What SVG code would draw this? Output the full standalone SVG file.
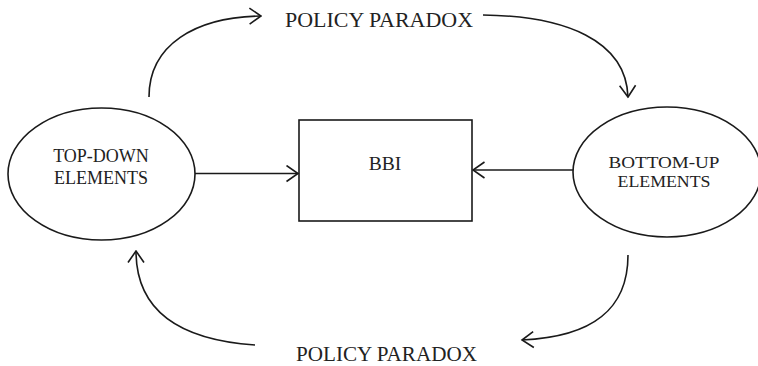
<svg xmlns="http://www.w3.org/2000/svg" width="758" height="366" viewBox="0 0 758 366">
<style>
.shape{fill:none;stroke:#1a1a1a;stroke-width:1.6}
.conn{fill:none;stroke:#1a1a1a;stroke-width:1.6}
.lbl{font-family:"Liberation Serif","Times New Roman",serif;fill:#222;text-anchor:middle}
</style>
<defs>
<marker id="arr" viewBox="0 0 14 18" refX="12.5" refY="9" markerWidth="14" markerHeight="18" markerUnits="userSpaceOnUse" orient="auto">
<path d="M1,1 L12.5,9 L1,17" fill="none" stroke="#1a1a1a" stroke-width="1.6"/>
</marker>
</defs>
<rect width="758" height="366" fill="#fff"/>
<g id="top-down">
<ellipse class="shape" cx="101.5" cy="174" rx="93.5" ry="66"/>
<text class="lbl" x="101" y="162" font-size="18">TOP-DOWN</text>
<text class="lbl" x="101" y="184" font-size="18">ELEMENTS</text>
</g>
<g id="bbi">
<rect class="shape" x="299" y="120" width="173" height="101"/>
<text class="lbl" x="385" y="170" font-size="19.5">BBI</text>
</g>
<g id="bottom-up">
<ellipse class="shape" cx="667" cy="172" rx="94" ry="65"/>
<text class="lbl" x="664" y="167.5" font-size="17" textLength="111" lengthAdjust="spacingAndGlyphs">BOTTOM-UP</text>
<text class="lbl" x="664" y="187" font-size="17" textLength="93" lengthAdjust="spacingAndGlyphs">ELEMENTS</text>
</g>
<g id="policy-top">
<text class="lbl" x="379" y="27" font-size="21" textLength="188" lengthAdjust="spacingAndGlyphs">POLICY PARADOX</text>
</g>
<g id="policy-bottom">
<text class="lbl" x="386.5" y="361" font-size="21" textLength="181" lengthAdjust="spacingAndGlyphs">POLICY PARADOX</text>
</g>
<g id="connectors">
<path class="conn" d="M195,173.5 L298,173.5" marker-end="url(#arr)"/>
<path class="conn" d="M573,170 L473,170" marker-end="url(#arr)"/>
<path class="conn" d="M149,97 C149,45 195,17 261,16" marker-end="url(#arr)"/>
<path class="conn" d="M483,15 C565,16 626,40 628,97" marker-end="url(#arr)"/>
<path class="conn" d="M628,255 C628,310 592,337 522,340" marker-end="url(#arr)"/>
<path class="conn" d="M255,345 C182,340 136,312 136,251" marker-end="url(#arr)"/>
</g>
</svg>
